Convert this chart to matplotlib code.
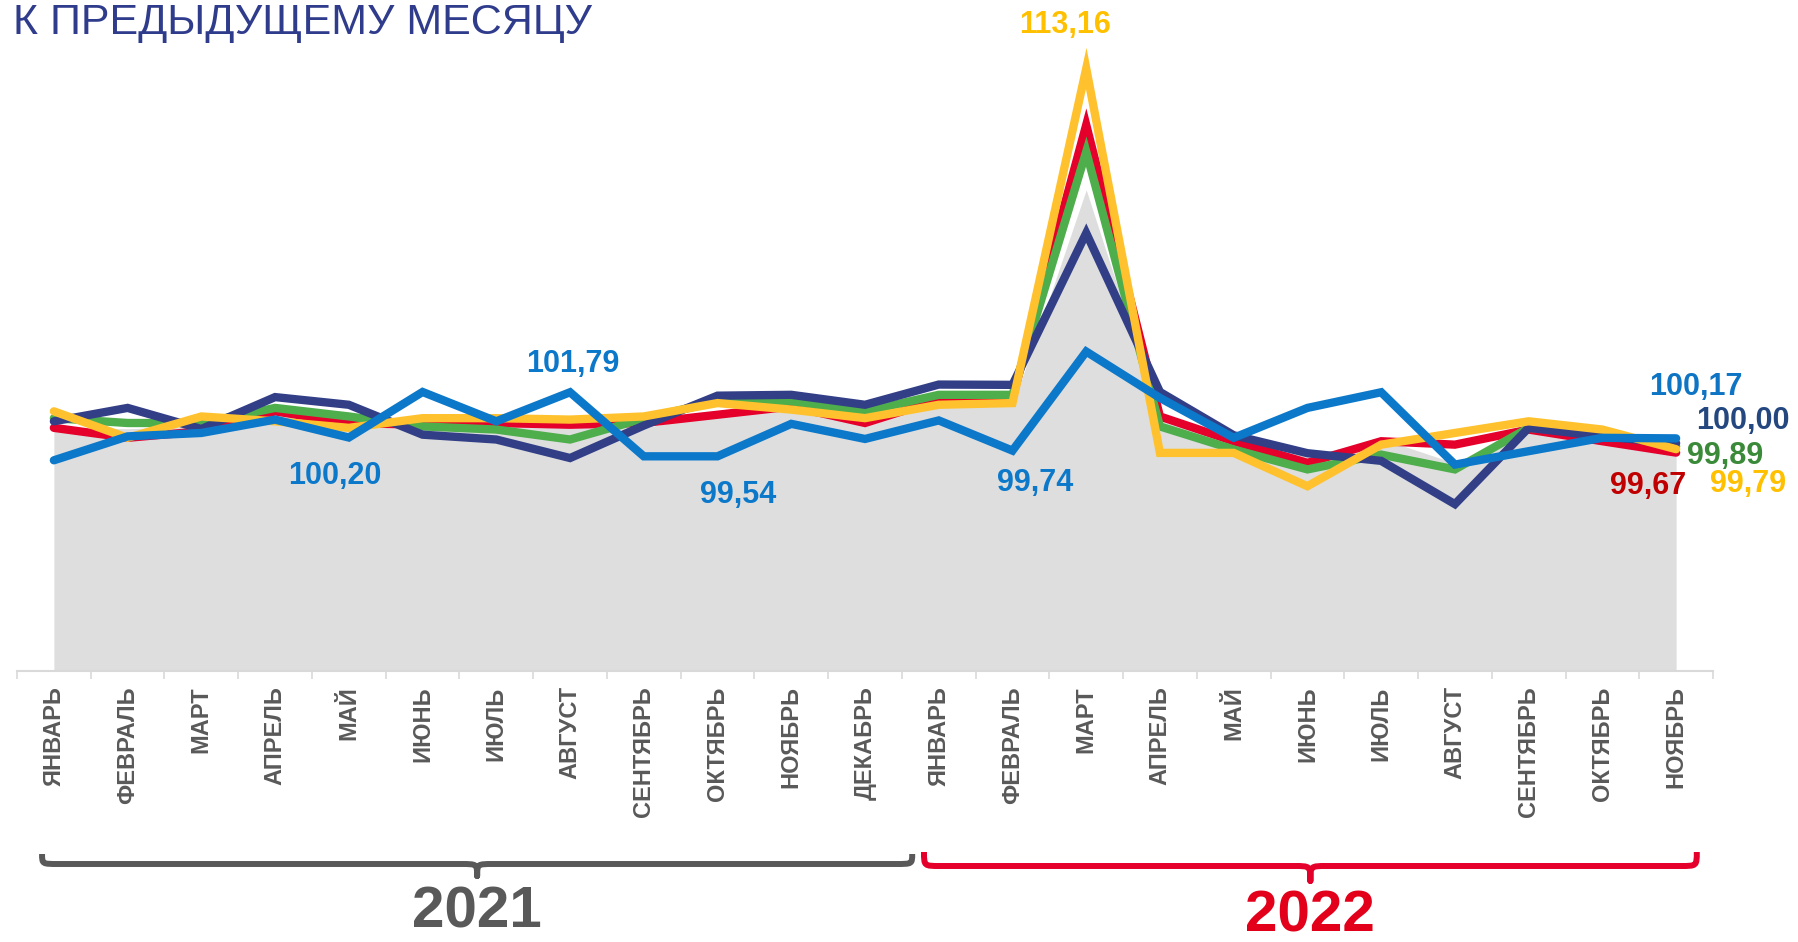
import matplotlib
matplotlib.use("Agg")
import matplotlib.pyplot as plt
import matplotlib.font_manager as fm
from matplotlib.path import Path
from matplotlib.patches import PathPatch
from matplotlib.transforms import blended_transform_factory
import numpy as np

# ---------------- data ----------------
months = ['ЯНВАРЬ', 'ФЕВРАЛЬ', 'МАРТ', 'АПРЕЛЬ', 'МАЙ', 'ИЮНЬ', 'ИЮЛЬ', 'АВГУСТ',
          'СЕНТЯБРЬ', 'ОКТЯБРЬ', 'НОЯБРЬ', 'ДЕКАБРЬ',
          'ЯНВАРЬ', 'ФЕВРАЛЬ', 'МАРТ', 'АПРЕЛЬ', 'МАЙ', 'ИЮНЬ', 'ИЮЛЬ', 'АВГУСТ',
          'СЕНТЯБРЬ', 'ОКТЯБРЬ', 'НОЯБРЬ']

navy = [100.77, 101.24, 100.50, 101.62, 101.35, 100.30, 100.13, 99.48, 100.62, 101.67, 101.70, 101.35,
        102.06, 102.05, 107.38, 101.80, 100.28, 99.65, 99.38, 97.86, 100.54, 100.24, 100.00]
red = [100.54, 100.19, 100.42, 101.12, 100.71, 100.65, 100.71, 100.65, 100.71, 101.00, 101.29, 100.71,
       101.53, 101.59, 111.18, 100.94, 100.07, 99.31, 100.07, 99.95, 100.48, 100.07, 99.67]
green = [100.88, 100.71, 100.71, 101.24, 100.94, 100.59, 100.48, 100.13, 100.87, 101.47, 101.47, 101.12,
         101.70, 101.70, 110.24, 100.59, 99.78, 99.08, 99.60, 99.08, 100.54, 100.36, 99.89]
yellow = [101.12, 100.19, 100.94, 100.77, 100.54, 100.88, 100.88, 100.83, 100.94, 101.41, 101.18, 100.88,
          101.35, 101.41, 113.16, 99.66, 99.66, 98.49, 99.95, 100.36, 100.77, 100.48, 99.79]
blue = [99.40, 100.24, 100.36, 100.83, 100.20, 101.80, 100.77, 101.79, 99.54, 99.54, 100.68, 100.15,
        100.80, 99.74, 103.22, 101.59, 100.19, 101.24, 101.79, 99.25, 99.72, 100.19, 100.17]
grey = [100.54, 100.51, 100.59, 101.12, 100.75, 100.84, 100.59, 100.58, 100.54, 101.02, 101.26, 100.84,
        101.49, 101.30, 108.90, 100.92, 100.00, 99.55, 100.16, 99.30, 100.41, 100.27, 99.90]

years = ['2021', '2022']
title = 'К ПРЕДЫДУЩЕМУ МЕСЯЦУ'

# ---------------- styles ----------------
names = {f.name for f in fm.fontManager.ttflist}
BASE = 'Liberation Sans' if 'Liberation Sans' in names else 'DejaVu Sans'
plt.rcParams['font.family'] = [BASE, 'DejaVu Sans']

C_NAVY = '#323F87'
C_RED = '#E4002B'
C_GREEN = '#4FAE4C'
C_YELLOW = '#FFC22E'
C_BLUE = '#0C78CA'
C_AREA = '#DEDEDE'
C_GREYTXT = '#595959'

W, H, DPI = 1798, 942, 100
fig = plt.figure(figsize=(W / DPI, H / DPI), dpi=DPI)

ax_bottom = 1 - 671 / H
ax_top = 1 - 44.6 / H
ax = fig.add_axes([17 / W, ax_bottom, 1696 / W, ax_top - ax_bottom])

x = np.arange(len(months))
ax.fill_between(x, 92, grey, color=C_AREA, lw=0, zorder=1)

lw = 6
series = [(red, C_RED), (green, C_GREEN), (navy, C_NAVY), (yellow, C_YELLOW), (blue, C_BLUE)]
for i, (vals, col) in enumerate(series):
    ax.plot(x, vals, color=col, lw=lw, solid_joinstyle='miter', solid_capstyle='round', zorder=2 + i)

ax.set_xlim(-0.5, len(months) - 0.5)
ax.set_ylim(92, 114)

for s in ['left', 'right', 'top']:
    ax.spines[s].set_visible(False)
ax.spines['bottom'].set_color('#D9D9D9')
ax.spines['bottom'].set_linewidth(1.5)
ax.set_yticks([])
ax.set_xticks(x)
ax.set_xticklabels(months, rotation=90, fontsize=17, fontweight='bold', color=C_GREYTXT)
ax.tick_params(axis='x', which='major', length=0, pad=11)
ax.set_xticks(np.arange(-0.5, len(months), 1.0), minor=True)
ax.tick_params(axis='x', which='minor', length=6, width=1.2, color='#D9D9D9')
ax.patch.set_alpha(0)

# value annotations: (values, index, colour, offset in points)
annots = [
    (blue, 7, C_BLUE, (2, 20)),
    (blue, 4, C_BLUE, (-10, -28)),
    (blue, 9, C_BLUE, (15, -28)),
    (blue, 13, C_BLUE, (16, -23)),
    (yellow, 14, '#FFC000', (-15, 31)),
    (blue, 22, '#0E74C4', (14, 37)),
    (navy, 22, '#23477E', (48, 16)),
    (green, 22, '#3B8A3A', (35, -7)),
    (red, 22, '#C00000', (-20, -24)),
    (yellow, 22, '#FFC000', (52, -25)),
]
for vals, i, col, off in annots:
    txt = f'{vals[i]:.2f}'.replace('.', ',')
    ax.annotate(txt, (x[i], vals[i]), xytext=off, textcoords='offset points',
                ha='center', va='center', fontsize=22, fontweight='bold', color=col,
                annotation_clip=False, zorder=10)

# title
fig.text(13 / W, 1 - 34 / H, title, fontsize=31, color='#2F3C8C', va='baseline', ha='left')

# braces under the axis
tr = blended_transform_factory(ax.transData, fig.transFigure)


def brace(x0, x1, ytop, ymid, ytip, color):
    xc = (x0 + x1) / 2
    rx = 0.22
    verts = [(x0, ytop), (x0, ymid), (x0, ymid), (x0 + rx, ymid),
             (xc - rx, ymid),
             (xc, ymid), (xc, ymid), (xc, ytip),
             (xc, ymid), (xc, ymid), (xc + rx, ymid),
             (x1 - rx, ymid),
             (x1, ymid), (x1, ymid), (x1, ytop)]
    codes = [Path.MOVETO, Path.CURVE4, Path.CURVE4, Path.CURVE4,
             Path.LINETO,
             Path.CURVE4, Path.CURVE4, Path.CURVE4,
             Path.CURVE4, Path.CURVE4, Path.CURVE4,
             Path.LINETO,
             Path.CURVE4, Path.CURVE4, Path.CURVE4]
    p = PathPatch(Path(verts, codes), transform=tr, fill=False, edgecolor=color,
                  lw=4.3, capstyle='butt', joinstyle='round', clip_on=False)
    fig.add_artist(p)
    return xc


n_first = 12
xc1 = brace(-0.16, n_first - 0.36, 1 - 854 / H, 1 - 864 / H, 1 - 876 / H, C_GREYTXT)
xc2 = brace(n_first - 0.2, len(months) - 0.72, 1 - 852 / H, 1 - 866 / H, 1 - 881 / H, C_RED)

fig.text(xc1, 1 - 913 / H, years[0], transform=tr, fontsize=42, fontweight='bold',
         color=C_GREYTXT, ha='center', va='center')
fig.text(xc2, 1 - 916 / H, years[1], transform=tr, fontsize=42, fontweight='bold',
         color='#E2001A', ha='center', va='center')

fig.savefig('out.png', dpi=DPI)
